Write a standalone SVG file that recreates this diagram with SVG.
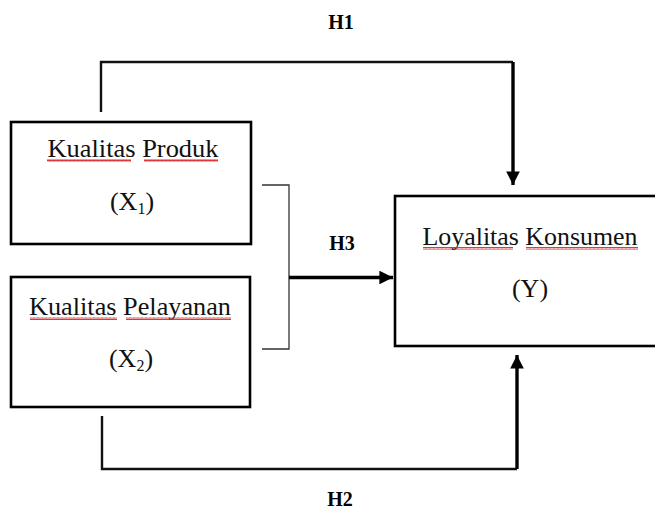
<svg xmlns="http://www.w3.org/2000/svg" width="655" height="509" viewBox="0 0 655 509">
<style>
.box{fill:#fff;stroke:#000;stroke-width:2.6}
.t{font-family:"Liberation Serif","Times New Roman",serif;font-size:26px;fill:#111;text-anchor:middle}
.h{font-family:"Liberation Serif","Times New Roman",serif;font-size:20px;font-weight:bold;fill:#000;text-anchor:middle}
.c{fill:none;stroke:#111;stroke-width:2.4;stroke-linejoin:miter}
.cb{fill:none;stroke:#000;stroke-width:3.4}
.br{fill:none;stroke:#333;stroke-width:1.3}
.sq{fill:url(#wave)}
</style>
<defs>
<pattern id="wave" x="0" y="0" width="4" height="3" patternUnits="userSpaceOnUse">
<path d="M0,2.6 L1,0.4 L2,2.6 L3,0.4 L4,2.6" fill="none" stroke="#e02020" stroke-width="0.9"/>
</pattern>
<marker id="ah" markerWidth="4" markerHeight="4" refX="4" refY="2" orient="auto" markerUnits="strokeWidth">
<path d="M0,0 L4,2 L0,4 Z" fill="#000"/>
</marker>
</defs>

<g id="connectors">
<path class="c" d="M101,112 V62 H513"/>
<path class="cb" d="M513,62 V185" marker-end="url(#ah)"/>
<path class="c" d="M102,416 V469 H517"/>
<path class="cb" d="M517,469 V355" marker-end="url(#ah)"/>
<path class="br" d="M262,185 H289 V349 H262"/>
<path class="cb" d="M289,277.5 H393" marker-end="url(#ah)"/>
</g>

<g id="node-x1">
<rect class="box" x="11" y="122" width="240" height="122"/>
<text class="t" x="133" y="157" textLength="171" lengthAdjust="spacingAndGlyphs">Kualitas Produk</text>
<rect class="sq" x="47" y="159" width="84" height="3"/>
<rect class="sq" x="144" y="159" width="74" height="3"/>
<text class="t" x="132" y="210">(X<tspan font-size="16" dy="4">1</tspan><tspan dy="-4">)</tspan></text>
</g>

<g id="node-x2">
<rect class="box" x="11" y="277" width="239" height="130"/>
<text class="t" x="130" y="315" textLength="202" lengthAdjust="spacingAndGlyphs">Kualitas Pelayanan</text>
<rect class="sq" x="30" y="317" width="87" height="3"/>
<rect class="sq" x="126" y="317" width="105" height="3"/>
<text class="t" x="131" y="367">(X<tspan font-size="16" dy="4">2</tspan><tspan dy="-4">)</tspan></text>
</g>

<g id="node-y">
<rect class="box" x="395" y="196" width="275" height="150"/>
<text class="t" x="530" y="245" textLength="215" lengthAdjust="spacingAndGlyphs">Loyalitas Konsumen</text>
<rect class="sq" x="423" y="247" width="90" height="3"/>
<rect class="sq" x="526" y="247" width="112" height="3"/>
<text class="t" x="530" y="297">(Y)</text>
</g>

<g id="labels">
<text class="h" x="341" y="29">H1</text>
<text class="h" x="342" y="250">H3</text>
<text class="h" x="340" y="506">H2</text>
</g>
</svg>
